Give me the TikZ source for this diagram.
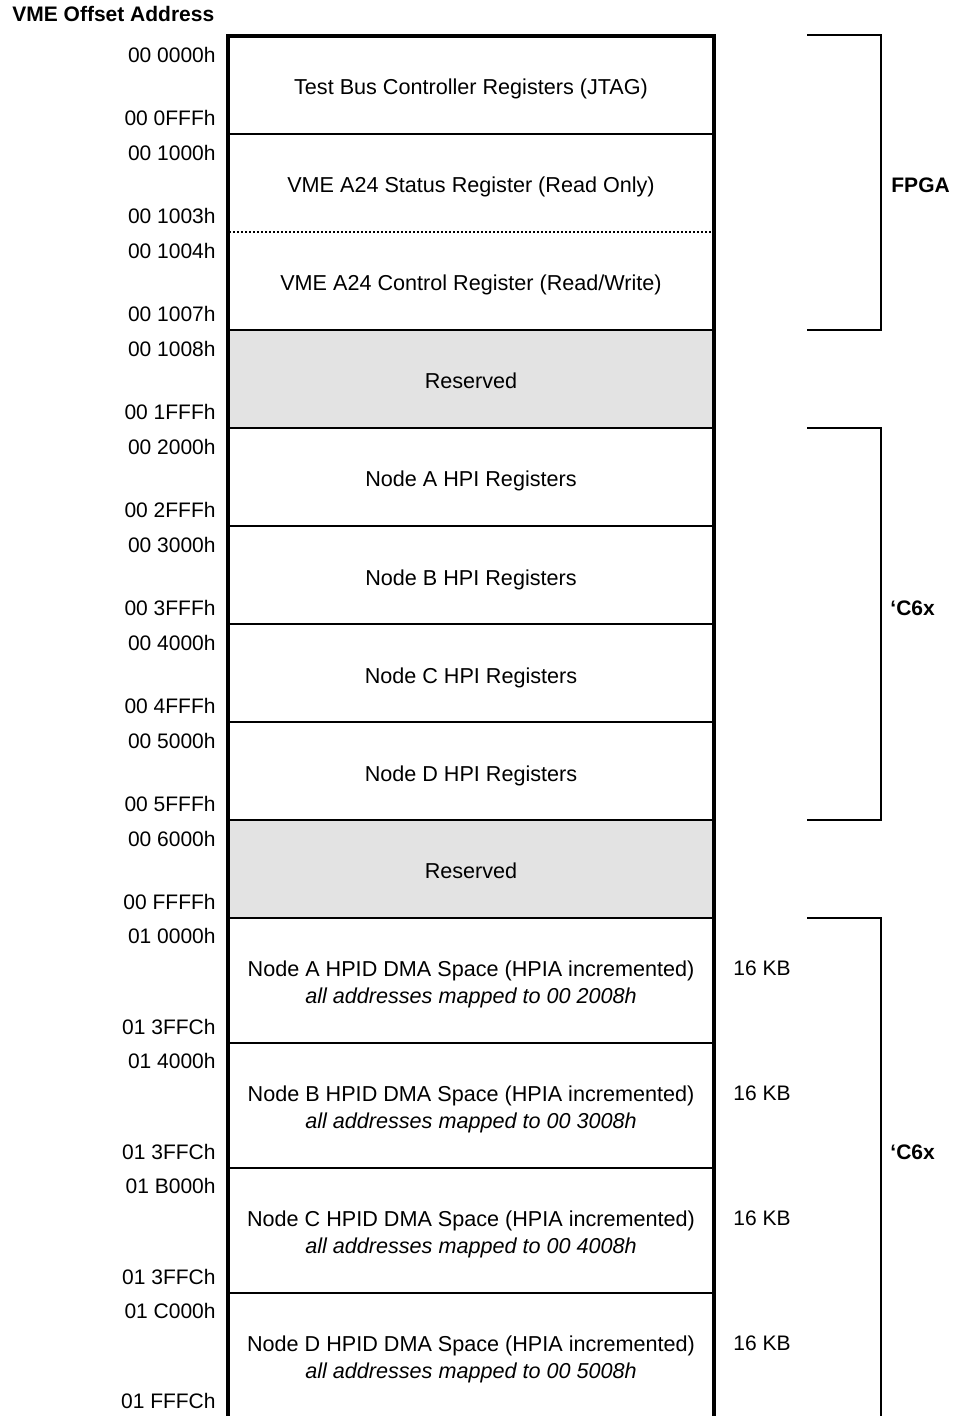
\documentclass[tikz,border=0pt]{standalone}
\usepackage{fontspec}
\setmainfont{Liberation Sans}
\begin{document}
\begin{tikzpicture}[x=0.5pt,y=-0.5pt,
  txt/.style={font=\fontsize{10.5}{12}\selectfont, inner sep=0pt},
  addr/.style={txt, anchor=east},
  rowtext/.style={txt, anchor=base, font=\fontsize{10.8}{12}\selectfont},
  side/.style={txt, anchor=west},
  sidebold/.style={txt, anchor=west, font=\fontsize{10.5}{12}\selectfont\bfseries},
  sep/.style={line width=1pt},
  dotsep/.style={line width=1.1pt, dash pattern=on 1.1pt off 0.9pt},
  frame/.style={line width=2pt, line join=miter},
  brk/.style={line width=1.2pt, line join=miter},
  resv/.style={fill={rgb,255:red,227;green,227;blue,227}}
]
\useasboundingbox (0,0) rectangle (957,1416);
% reserved fills
\fill[resv] (228,330) rectangle (714,428);
\fill[resv] (228,820) rectangle (714,918);
% separators
\foreach \y in {134,330,428,526,624,722,820,918,1043,1168,1293}
  \draw[sep] (228,\y) -- (714,\y);
\draw[dotsep] (229,232) -- (714,232);
% frame
\draw[frame] (228,1418) -- (228,36) -- (714,36) -- (714,1418);
% brackets
\draw[brk] (807,35) -- (881,35) -- (881,330) -- (807,330);
\draw[brk] (807,428) -- (881,428) -- (881,820) -- (807,820);
\draw[brk] (807,918) -- (881,918) -- (881,1418);
% heading
\node[txt, anchor=base west, font=\fontsize{10.5}{12}\selectfont\bfseries] (head) at (12,22) {VME Offset Address};
% address labels
\node[addr] (a1) at (216,55) {00 0000h};
\node[addr] (b1) at (216,118) {00 0FFFh};
\node[addr] (a2) at (216,153) {00 1000h};
\node[addr] (b2) at (216,216) {00 1003h};
\node[addr] (a3) at (216,251) {00 1004h};
\node[addr] (b3) at (216,314) {00 1007h};
\node[addr] (a4) at (216,349) {00 1008h};
\node[addr] (b4) at (216,412) {00 1FFFh};
\node[addr] (a5) at (216,447) {00 2000h};
\node[addr] (b5) at (216,510) {00 2FFFh};
\node[addr] (a6) at (216,545) {00 3000h};
\node[addr] (b6) at (216,608) {00 3FFFh};
\node[addr] (a7) at (216,643) {00 4000h};
\node[addr] (b7) at (216,706) {00 4FFFh};
\node[addr] (a8) at (216,741) {00 5000h};
\node[addr] (b8) at (216,804) {00 5FFFh};
\node[addr] (a9) at (216,839) {00 6000h};
\node[addr] (b9) at (216,902) {00 FFFFh};
\node[addr] (a10) at (216,936) {01 0000h};
\node[addr] (b10) at (216,1027) {01 3FFCh};
\node[addr] (a11) at (216,1061) {01 4000h};
\node[addr] (b11) at (216,1152) {01 3FFCh};
\node[addr] (a12) at (216,1186) {01 B000h};
\node[addr] (b12) at (216,1277) {01 3FFCh};
\node[addr] (a13) at (216,1311) {01 C000h};
\node[addr] (b13) at (216,1401) {01 FFFCh};
% row texts
\node[rowtext] (t1) at (471,95) {Test Bus Controller Registers (JTAG)};
\node[rowtext] (t2) at (471,193) {VME A24 Status Register (Read Only)};
\node[rowtext] (t3) at (471,291) {VME A24 Control Register (Read/Write)};
\node[rowtext] (t4) at (471,389) {Reserved};
\node[rowtext] (t5) at (471,487) {Node A HPI Registers};
\node[rowtext] (t6) at (471,585) {Node B HPI Registers};
\node[rowtext] (t7) at (471,683) {Node C HPI Registers};
\node[rowtext] (t8) at (471,781) {Node D HPI Registers};
\node[rowtext] (t9) at (471,878) {Reserved};
\node[rowtext] (t10) at (471,976) {Node A HPID DMA Space (HPIA incremented)};
\node[rowtext] (u10) at (471,1003) {\itshape all addresses mapped to 00 2008h};
\node[rowtext] (t11) at (471,1101) {Node B HPID DMA Space (HPIA incremented)};
\node[rowtext] (u11) at (471,1128) {\itshape all addresses mapped to 00 3008h};
\node[rowtext] (t12) at (471,1226) {Node C HPID DMA Space (HPIA incremented)};
\node[rowtext] (u12) at (471,1253) {\itshape all addresses mapped to 00 4008h};
\node[rowtext] (t13) at (471,1351) {Node D HPID DMA Space (HPIA incremented)};
\node[rowtext] (u13) at (471,1378) {\itshape all addresses mapped to 00 5008h};
% sizes
\node[side] (s10) at (733,968) {16 KB};
\node[side] (s11) at (733,1093) {16 KB};
\node[side] (s12) at (733,1218) {16 KB};
\node[side] (s13) at (733,1343) {16 KB};
% group labels
\node[sidebold] (g1) at (891,185) {FPGA};
\node[sidebold] (g2) at (890,608) {‘C6x};
\node[sidebold] (g3) at (890,1152) {‘C6x};
\end{tikzpicture}
\end{document}
